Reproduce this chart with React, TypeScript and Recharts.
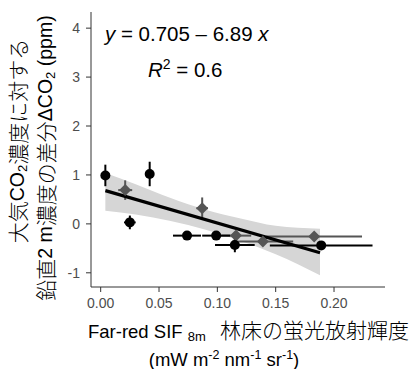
import React from 'react';
import {
  ComposedChart, XAxis, YAxis, Scatter, Line, Area, ErrorBar,
} from 'recharts';

// Black circle observations
const blackX = [0.004, 0.025, 0.042, 0.074, 0.099, 0.115, 0.189];
const blackY = [0.99, 0.03, 1.02, -0.24, -0.24, -0.43, -0.44];
const blackXErr = [0, 0.005, 0, 0.012, 0.012, 0.017, 0.044];
const blackYErr = [0.22, 0.14, 0.25, 0, 0, 0.15, 0];

// Grey diamond observations
const grayX = [0.021, 0.087, 0.116, 0.139, 0.183];
const grayY = [0.69, 0.32, -0.24, -0.36, -0.26];
const grayXErr = [0.006, 0.005, 0.013, 0.026, 0.041];
const grayYErr = [0.2, 0.22, 0, 0, 0];

// Regression line endpoints (y = 0.705 - 6.89x)
const fitX = [0.004, 0.188];
const fitY = [0.68, -0.59];

// Confidence band
const bandX = [0.004, 0.03, 0.06, 0.09, 0.12, 0.15, 0.188];
const bandLo = [0.27, 0.19, 0.06, -0.12, -0.35, -0.62, -1.05];
const bandHi = [1.04, 0.81, 0.53, 0.29, 0.11, -0.04, -0.10];

const xTicks = [0, 0.05, 0.1, 0.15, 0.2];
const yTicks = [-1, 0, 1, 2, 3, 4];
const xDomain = [-0.0083, 0.2437];
const yDomain = [-1.29, 4.33];

const blackData = blackX.map((x, i) => ({ x, y: blackY[i], ex: blackXErr[i], ey: blackYErr[i] }));
const grayData = grayX.map((x, i) => ({ x, y: grayY[i], ex: grayXErr[i], ey: grayYErr[i] }));
const fitData = fitX.map((x, i) => ({ x, y: fitY[i] }));
const bandData = bandX.map((x, i) => ({ x, band: [bandLo[i], bandHi[i]] }));

const LATIN = "'Liberation Sans', Arial, 'Noto Sans CJK JP', sans-serif";
const CJK = "'Noto Sans CJK JP', 'Liberation Sans', sans-serif";

const CircleShape = (props: any) => {
  const { cx, cy } = props;
  if (cx == null || cy == null) return null;
  return <circle cx={cx} cy={cy} r={5} fill="#000" />;
};

const DiamondShape = (props: any) => {
  const { cx, cy } = props;
  if (cx == null || cy == null) return null;
  const h = 6;
  return <path d={`M${cx},${cy - h}L${cx + h},${cy}L${cx},${cy + h}L${cx - h},${cy}Z`} fill="#555" />;
};

const tickStyle = { fill: '#4d4d4d', fontSize: 14, fontFamily: LATIN };

export default function App() {
  return (
    <div style={{ position: 'absolute', left: 0, top: 0, width: 417, height: 369, background: '#fff' }}>
      <ComposedChart
        width={417}
        height={369}
        margin={{ top: 12, right: 32, bottom: 52, left: 51 }}
      >
        <XAxis
          dataKey="x"
          type="number"
          domain={xDomain}
          ticks={xTicks}
          allowDataOverflow
          tickFormatter={(v: number) => v.toFixed(2)}
          tick={tickStyle}
          tickSize={5}
          tickMargin={6}
          height={30}
          stroke="#333"
          axisLine={{ stroke: '#333', strokeWidth: 1 }}
          tickLine={{ stroke: '#333', strokeWidth: 1 }}
        />
        <XAxis
          xAxisId="top"
          orientation="top"
          type="number"
          domain={xDomain}
          allowDataOverflow
          tick={false}
          tickLine={false}
          height={0}
          axisLine={{ stroke: '#333', strokeWidth: 1 }}
        />
        <YAxis
          dataKey="y"
          type="number"
          domain={yDomain}
          ticks={yTicks}
          allowDataOverflow
          tick={tickStyle}
          tickSize={5}
          tickMargin={6}
          width={40}
          axisLine={{ stroke: '#333', strokeWidth: 1 }}
          tickLine={{ stroke: '#333', strokeWidth: 1 }}
        />
        <YAxis
          yAxisId="right"
          orientation="right"
          type="number"
          domain={yDomain}
          allowDataOverflow
          tick={false}
          tickLine={false}
          width={0}
          axisLine={{ stroke: '#333', strokeWidth: 1 }}
        />
        <Area
          data={bandData}
          dataKey="band"
          type="monotone"
          fill="#d6d6d6"
          fillOpacity={1}
          stroke="none"
          isAnimationActive={false}
        />
        <Scatter data={grayData} dataKey="y" shape={DiamondShape} isAnimationActive={false}>
          <ErrorBar dataKey="ex" direction="x" width={0} stroke="#555" strokeWidth={2} />
          <ErrorBar dataKey="ey" direction="y" width={0} stroke="#555" strokeWidth={2} />
        </Scatter>
        <Scatter data={blackData} dataKey="y" shape={CircleShape} isAnimationActive={false}>
          <ErrorBar dataKey="ex" direction="x" width={0} stroke="#000" strokeWidth={2} />
          <ErrorBar dataKey="ey" direction="y" width={0} stroke="#000" strokeWidth={2} />
        </Scatter>
        <Line
          data={fitData}
          dataKey="y"
          type="linear"
          stroke="#000"
          strokeWidth={3.2}
          dot={false}
          activeDot={false}
          isAnimationActive={false}
        />
      </ComposedChart>
      <svg
        width={417}
        height={369}
        style={{ position: 'absolute', left: 0, top: 0, pointerEvents: 'none' }}
      >
        <text x={105} y={41} fontFamily={LATIN} fontSize={20.5} fill="#000">
          <tspan fontStyle="italic">y</tspan>
          <tspan> = 0.705 – 6.89 </tspan>
          <tspan fontStyle="italic">x</tspan>
        </text>
        <text x={148} y={77} fontFamily={LATIN} fontSize={20.5} fill="#000">
          <tspan fontStyle="italic">R</tspan>
          <tspan fontSize={14} dy={-8}>2</tspan>
          <tspan dy={8}> = 0.6</tspan>
        </text>
        <text x={88} y={338} fontFamily={LATIN} fontSize={18.5} fill="#000">
          <tspan>Far-red SIF </tspan>
          <tspan fontSize={13} dy={3}>8m</tspan>
          <tspan x={220} dy={-3} fontFamily={CJK} fontSize={21} fontWeight={300}>林床の蛍光放射輝度</tspan>
        </text>
        <text x={224} y={366} textAnchor="middle" fontFamily={LATIN} fontSize={18.5} fill="#000">
          <tspan>(mW m</tspan>
          <tspan fontSize={12.5} dy={-7}>-2</tspan>
          <tspan dy={7}> nm</tspan>
          <tspan fontSize={12.5} dy={-7}>-1</tspan>
          <tspan dy={7}> sr</tspan>
          <tspan fontSize={12.5} dy={-7}>-1</tspan>
          <tspan dy={7}>)</tspan>
        </text>
        <text
          transform="translate(17,141) rotate(-90)"
          textAnchor="middle"
          dominantBaseline="central"
          fontFamily={LATIN}
          fontSize={19.5}
          fill="#000"
        >
          <tspan fontFamily={CJK} fontSize={21} fontWeight={300}>大気</tspan>
          <tspan>CO</tspan>
          <tspan fontSize={13} dy={5}>2</tspan>
          <tspan dy={-5} fontFamily={CJK} fontSize={21} fontWeight={300}>濃度に対する</tspan>
        </text>
        <text
          transform="translate(45,158) rotate(-90)"
          textAnchor="middle"
          dominantBaseline="central"
          fontFamily={LATIN}
          fontSize={19.5}
          fill="#000"
        >
          <tspan fontFamily={CJK} fontSize={21} fontWeight={300}>鉛直</tspan>
          <tspan>2 m</tspan>
          <tspan fontFamily={CJK} fontSize={21} fontWeight={300}>濃度の差分</tspan>
          <tspan>ΔCO</tspan>
          <tspan fontSize={13} dy={5}>2</tspan>
          <tspan dy={-5}> (ppm)</tspan>
        </text>
      </svg>
    </div>
  );
}
